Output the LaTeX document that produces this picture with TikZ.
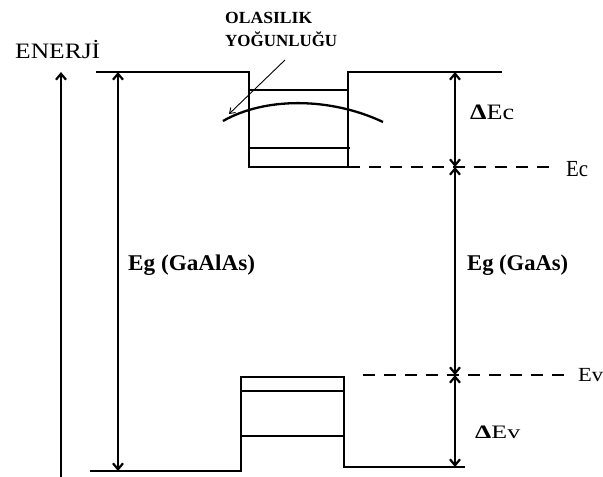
\documentclass[tikz,border=0pt]{standalone}
\usepackage{fontspec}
\setmainfont{Liberation Serif}
\usetikzlibrary{arrows.meta}
\newsavebox\fitbox
\newcommand\fitx[2]{\sbox\fitbox{#2}\pgfmathsetmacro\fitf{#1/(\the\wd\fitbox)}\scalebox{\fitf}[1]{\usebox\fitbox}}
\tikzset{
  band/.style={line width=2.6pt, line join=miter},
  lvl/.style={line width=2.3pt},
  dimarrow/.style={line width=2.2pt, {Straight Barb[length=6pt,width=10pt]}-{Straight Barb[length=6pt,width=10pt]}},
  uparrow/.style={line width=2.2pt, -{Straight Barb[length=6pt,width=10pt]}},
  dsh/.style={line width=2.2pt, dash pattern=on 12pt off 9pt},
  lbl/.style={inner sep=0pt, anchor=base west},
}
\begin{document}
\begin{tikzpicture}[x=1pt,y=-1pt]
\useasboundingbox[fill=white] (0,0) rectangle (603,477);
% coordinates
\coordinate (eTop) at (61,72);
\coordinate (eBot) at (61,477);
\coordinate (gTop) at (118,72);
\coordinate (gBot) at (118,471);
\coordinate (rTop) at (455,72);
\coordinate (rEc) at (455,167);
\coordinate (rEv) at (455,375);
\coordinate (rBot) at (455,467);
\coordinate (ecA) at (348,167);
\coordinate (ecB) at (553,167);
\coordinate (evA) at (363,375);
\coordinate (evB) at (568,375);
\coordinate (pTail) at (285,60);
\coordinate (pHead) at (229,114);
% conduction band
\draw[band] (96,72) -- (249,72) -- (249,167) -- (348,167) -- (348,72) -- (502,72);
\draw[lvl] (249,90) -- (348,90);
\draw[lvl] (249,148) -- (350,148);
% valence band
\draw[band] (90,471) -- (241,471) -- (241,377) -- (344,377) -- (344,467) -- (465,467);
\draw[lvl] (241,391) -- (344,391);
\draw[lvl] (241,436) -- (344,436);
% probability curve
\draw[lvl] (223,121) .. controls (265,97) and (330,97) .. (383,122);
% dashed levels
\draw[dsh] (ecA) -- (ecB);
\draw[dsh] (evA) -- (evB);
% arrows
\draw[uparrow] (eBot) -- (eTop);
\draw[dimarrow] (gTop) -- (gBot);
\draw[dimarrow] (rTop) -- (rEc);
\draw[dimarrow] (rEc) -- (rEv);
\draw[dimarrow] (rEv) -- (rBot);
\draw[line width=0.9pt, -{Straight Barb[length=5pt,width=7pt]}] (pTail) -- (pHead);
% labels
\node[lbl, font=\fontsize{22}{22}\selectfont] (enerji) at (15,58) {\fitx{85}{ENERJİ}};
\node[lbl, font=\fontsize{17}{17}\selectfont\bfseries] (olas) at (225,23) {\fitx{87}{OLASILIK}};
\node[lbl, font=\fontsize{17}{17}\selectfont\bfseries] (yog) at (225,46) {\fitx{112}{YOĞUNLUĞU}};
\node[lbl, font=\fontsize{22.5}{22.5}\selectfont\bfseries] (egal) at (128,270) {\fitx{127}{Eg (GaAlAs)}};
\node[lbl, font=\fontsize{22.5}{22.5}\selectfont\bfseries] (egas) at (467,270) {\fitx{101}{Eg (GaAs)}};
\node[lbl, font=\fontsize{22}{22}\selectfont] (dec) at (470,119) {\fitx{44}{{\bfseries Δ}Ec}};
\node[lbl, font=\fontsize{23}{23}\selectfont] (ec) at (566,176) {\fitx{22}{Ec}};
\node[lbl, font=\fontsize{19}{19}\selectfont] (dev) at (475,438) {\fitx{45}{{\bfseries Δ}Ev}};
\node[lbl, font=\fontsize{20}{20}\selectfont] (ev) at (578,381) {\fitx{25}{Ev}};
\end{tikzpicture}
\end{document}
